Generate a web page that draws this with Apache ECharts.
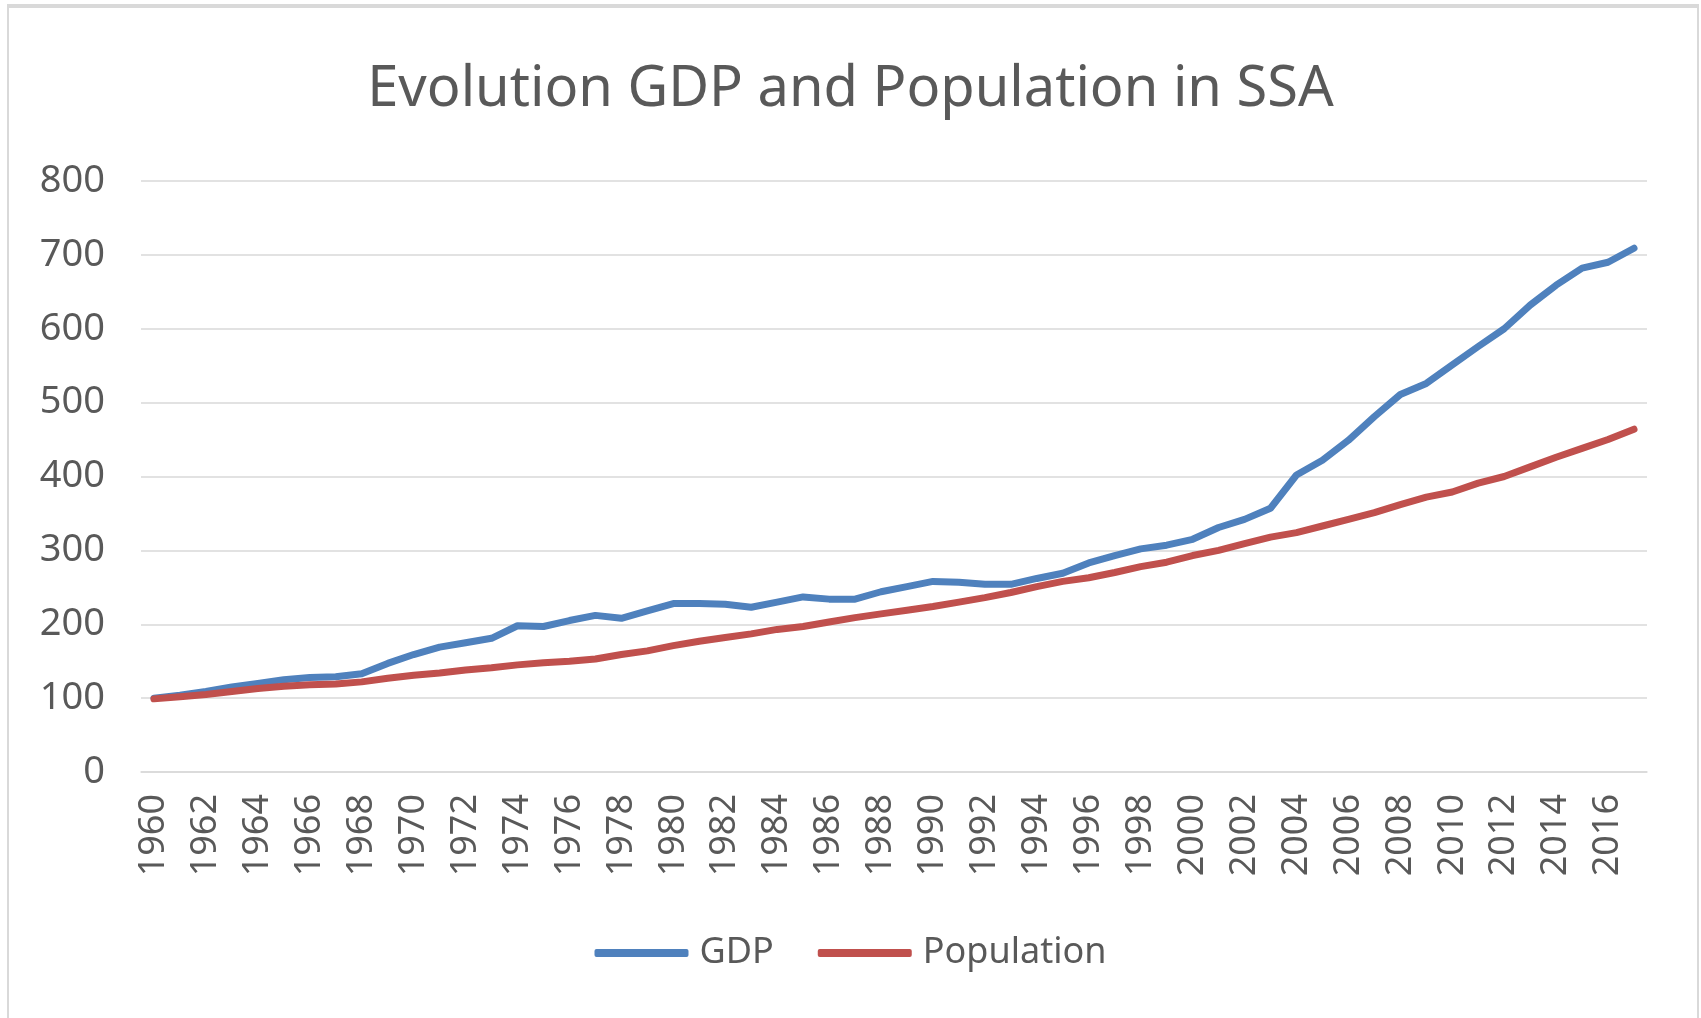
<!DOCTYPE html>
<html lang="en">
<head>
  <meta charset="UTF-8">
  <title>Evolution GDP and Population in SSA</title>
  <script src="https://cdn.jsdelivr.net/npm/echarts@6/dist/echarts.min.js"></script>
  <style>
    html, body { margin: 0; padding: 0; background: #fff; }
    #wrap { position: relative; width: 1701px; height: 1018px; overflow: hidden; }
    #chart { position: absolute; left: 0; top: 0; width: 1701px; height: 1018px; }
    #frame {
      position: absolute; left: 7px; top: 4px; width: 1688px; height: 1030px;
      border: 2px solid #d9d9d9; border-top-width: 4px; pointer-events: none;
    }
  </style>
</head>
<body>
<div id="wrap">
  <div id="chart"></div>
  <div id="frame"></div>
</div>
<script>
  // index values (1960 = 100)
  const years = [];
  for (let y = 1960; y <= 2017; y++) years.push(String(y));

  const gdp = [
    100, 104, 109, 115, 120, 125, 128, 129, 133, 147,
    159, 169, 175, 181, 198, 197, 205, 212, 208, 218,
    228, 228, 227, 223, 230, 237, 234, 234, 244, 251,
    258, 257, 254, 254, 262, 269, 283, 293, 302, 307,
    315, 331, 342, 357, 402, 422, 449, 481, 511, 526,
    551, 576, 600, 632, 659, 682, 690, 709
  ];

  const population = [
    99, 102, 105, 109, 113, 116, 118, 119, 122, 127,
    131, 134, 138, 141, 145, 148, 150, 153, 159, 164,
    171, 177, 182, 187, 193, 197, 203, 209, 214, 219,
    224, 230, 236, 243, 251, 258, 263, 270, 278, 284,
    293, 300, 309, 318, 324, 333, 342, 351, 362, 372,
    379, 391, 400, 413, 426, 438, 450, 464
  ];

  const yTicks = [0, 100, 200, 300, 400, 500, 600, 700, 800];

  const font = "'Noto Sans', 'Open Sans', sans-serif";
  const grey = '#595959';

  const chart = echarts.init(document.getElementById('chart'));
  chart.setOption({
    backgroundColor: '#fff',
    animation: false,
    title: {
      text: 'Evolution GDP and Population in SSA',
      left: 'center',
      top: 57,
      textStyle: { fontFamily: font, fontSize: 56, fontWeight: 'normal', color: grey }
    },
    legend: {
      data: ['GDP', 'Population'],
      bottom: 42,
      left: 'center',
      icon: 'roundRect',
      itemWidth: 94,
      itemHeight: 8,
      itemGap: 44,
      textStyle: { fontFamily: font, fontSize: 36, color: grey, padding: [0, 0, 0, 6] }
    },
    grid: { left: 141, right: 54, top: 181, bottom: 246 },
    xAxis: {
      type: 'category',
      data: years,
      boundaryGap: true,
      axisLine: { lineStyle: { color: '#d9d9d9', width: 1.5 } },
      axisTick: { show: false },
      axisLabel: {
        interval: 1,
        rotate: 90,
        margin: 22,
        fontFamily: font,
        fontSize: 36,
        color: grey
      }
    },
    yAxis: {
      type: 'value',
      min: yTicks[0],
      max: yTicks[yTicks.length - 1],
      interval: 100,
      axisLine: { show: false },
      axisTick: { show: false },
      splitLine: { lineStyle: { color: '#d9d9d9', width: 1.5 } },
      axisLabel: { margin: 36, fontFamily: font, fontSize: 38, color: grey }
    },
    series: [
      {
        name: 'GDP',
        type: 'line',
        data: gdp,
        showSymbol: false,
        color: '#4f81bd',
        lineStyle: { width: 7, color: '#4f81bd', cap: 'round', join: 'round' }
      },
      {
        name: 'Population',
        type: 'line',
        data: population,
        showSymbol: false,
        color: '#c0504d',
        lineStyle: { width: 7, color: '#c0504d', cap: 'round', join: 'round' }
      }
    ]
  });
</script>
</body>
</html>
